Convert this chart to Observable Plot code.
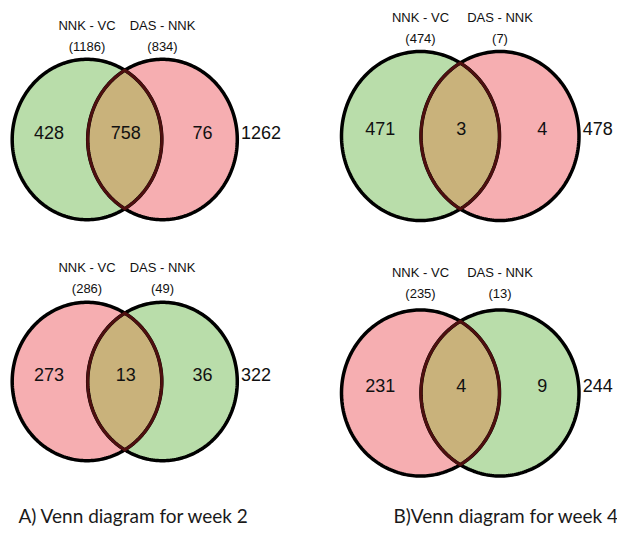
<!DOCTYPE html>
<html>
<head>
<meta charset="utf-8">
<script src="https://cdn.jsdelivr.net/npm/d3@7"></script>
<script src="https://cdn.jsdelivr.net/npm/@observablehq/plot@0.6"></script>
<style>
  html, body { margin: 0; padding: 0; background: #fff; }
  #chart svg { display: block; }
</style>
</head>
<body>
<div id="chart"></div>
<script>
// ---- data ----
const captions = ["A) Venn diagram for week 2", "B)Venn diagram for week 4"];
const setNames = ["NNK - VC", "DAS - NNK"];
const leftSetTotals = [1186, 474, 286, 235];
const rightSetTotals = [834, 7, 49, 13];
const onlyLeft = [428, 471, 273, 231];
const shared = [758, 3, 13, 4];
const onlyRight = [76, 4, 36, 9];
const unionTotals = [1262, 478, 322, 244];

// ---- layout (pixel geometry of each panel) ----
const W = 617, H = 534;
const GREEN = "#b9ddaa", PINK = "#f6aeb1", TAN = "#c9b27b", MAROON = "#4e0f0f";
const layout = [
  {cx1: 86.5, cx2: 162, cy: 139, rx: 74.8, ry: 80.2, leftColor: GREEN, rightColor: PINK, lab: 32},
  {cx1: 420, cx2: 499.5, cy: 135.5, rx: 79, ry: 84.5, leftColor: GREEN, rightColor: PINK, lab: 32},
  {cx1: 86.5, cx2: 162, cy: 381, rx: 74.8, ry: 79.2, leftColor: PINK, rightColor: GREEN, lab: 33},
  {cx1: 420, cx2: 499.5, cy: 392.5, rx: 79, ry: 83, leftColor: PINK, rightColor: GREEN, lab: 35}
];
const SW = 3.5;

function ellipse(cx, cy, rx, ry, id) {
  return d3.range(241).map(i => {
    const t = (i / 240) * 2 * Math.PI;
    return {id, x: cx + rx * Math.cos(t), y: cy + ry * Math.sin(t)};
  });
}
function lens(p, id) {
  const half = (p.cx2 - p.cx1) / 2;
  const t0 = Math.acos(half / p.rx);
  const pts = [];
  const n = 80;
  for (let i = 0; i <= n; i++) {
    const t = -t0 + (2 * t0 * i) / n;
    pts.push({id, x: p.cx1 + p.rx * Math.cos(t), y: p.cy + p.ry * Math.sin(t)});
  }
  for (let i = 0; i <= n; i++) {
    const t = Math.PI - t0 + (2 * t0 * i) / n;
    pts.push({id, x: p.cx2 + p.rx * Math.cos(t), y: p.cy + p.ry * Math.sin(t)});
  }
  return pts;
}

const marks = [];
layout.forEach((p, k) => {
  const e1 = ellipse(p.cx1, p.cy, p.rx, p.ry, `L${k}`);
  const e2 = ellipse(p.cx2, p.cy, p.rx, p.ry, `R${k}`);
  const ln = lens(p, `X${k}`);
  marks.push(Plot.line(e1, {x: "x", y: "y", fill: p.leftColor, stroke: "none", curve: "linear-closed"}));
  marks.push(Plot.line(e2, {x: "x", y: "y", fill: p.rightColor, stroke: "none", curve: "linear-closed"}));
  marks.push(Plot.line(ln, {x: "x", y: "y", fill: TAN, stroke: "none", curve: "linear-closed"}));
  marks.push(Plot.line(e1, {x: "x", y: "y", stroke: "#000", strokeWidth: SW, curve: "linear-closed"}));
  marks.push(Plot.line(e2, {x: "x", y: "y", stroke: "#000", strokeWidth: SW, curve: "linear-closed"}));
  marks.push(Plot.line(ln, {x: "x", y: "y", stroke: MAROON, strokeWidth: 3, curve: "linear-closed"}));
});

// set name labels and set totals
const labelRows = layout.flatMap((p, k) => {
  const top = p.cy - p.ry - SW / 2;
  return [
    {x: p.cx1, y: top - p.lab, text: setNames[0]},
    {x: p.cx2, y: top - p.lab, text: setNames[1]},
    {x: p.cx1, y: top - p.lab + 21, text: `(${leftSetTotals[k]})`},
    {x: p.cx2, y: top - p.lab + 21, text: `(${rightSetTotals[k]})`}
  ];
});
marks.push(Plot.text(labelRows, {x: "x", y: "y", text: "text", fontSize: 13, fontFamily: "Liberation Sans, Arial, sans-serif", fill: "#111"}));

// region counts
const counts = layout.flatMap((p, k) => {
  const mid = (p.cx1 + p.cx2) / 2;
  const y = p.cy - 6.5;
  return [
    {x: mid - p.rx - 1, y, text: String(onlyLeft[k])},
    {x: mid + 1, y, text: String(shared[k])},
    {x: mid + p.rx + 3, y, text: String(onlyRight[k])}
  ];
});
marks.push(Plot.text(counts, {x: "x", y: "y", text: "text", fontSize: 18, fontFamily: "Liberation Sans, Arial, sans-serif", fill: "#111"}));

const totals = layout.map((p, k) => ({x: p.cx2 + p.rx + SW / 2 + 2, y: p.cy - 6.5, text: String(unionTotals[k])}));
marks.push(Plot.text(totals, {x: "x", y: "y", text: "text", textAnchor: "start", fontSize: 18, fontFamily: "Liberation Sans, Arial, sans-serif", fill: "#111"}));

// captions
const capRows = captions.map((c, i) => ({x: i === 0 ? 18 : 393, y: 516, text: c}));
marks.push(Plot.text(capRows, {x: "x", y: "y", text: "text", textAnchor: "start", fontSize: 19, fontFamily: "Lato, sans-serif", fill: "#1a1a1a"}));

const chart = Plot.plot({
  width: W,
  height: H,
  margin: 0,
  x: {domain: [0, W], range: [0, W], axis: null},
  y: {domain: [0, H], range: [0, H], axis: null},
  style: {background: "#fff", overflow: "visible"},
  marks
});
document.getElementById("chart").appendChild(chart);
</script>
</body>
</html>
